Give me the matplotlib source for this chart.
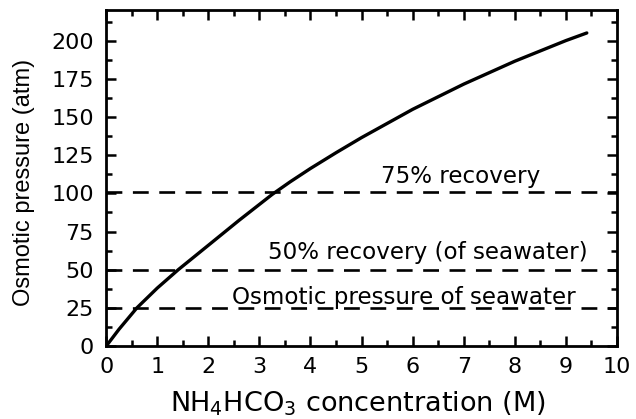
import matplotlib
matplotlib.use("Agg")
import matplotlib.pyplot as plt
from matplotlib.ticker import MultipleLocator

plt.rcParams['font.family'] = ['DejaVu Sans']
plt.rcParams['mathtext.fontset'] = 'dejavusans'

conc = [0, 0.25, 0.6, 1.0, 1.41, 2.0, 2.6, 3.25, 3.6, 4.0, 4.5, 5.0, 6.0, 7.0, 8.0, 9.0, 9.41]
pressure = [0, 11, 25, 38, 50, 66, 82.3, 99.3, 107.5, 116.3, 126.6, 136.5, 155, 171.5, 186.5, 200, 205]

ref_levels = [25, 50, 101]
ref_labels = ["Osmotic pressure of seawater", "50% recovery (of seawater)", "75% recovery"]
label_x = [5.83, 6.29, 6.93]
label_y = [32, 61.5, 111]

fig = plt.figure(figsize=(6.36, 4.19), dpi=100)
ax = fig.add_axes([0.167, 0.174, 0.803, 0.802])

ax.plot(conc, pressure, color='black', lw=2.4, solid_capstyle='round', solid_joinstyle='round')
for lev in ref_levels:
    ax.plot([0, 10], [lev, lev], color='black', lw=1.9, dashes=(6, 4))
for t, x, y in zip(ref_labels, label_x, label_y):
    ax.text(x, y, t, ha='center', va='center', fontsize=16.6)

ax.set_xlim(0, 10)
ax.set_ylim(0, 220)
ax.xaxis.set_major_locator(MultipleLocator(1))
ax.xaxis.set_minor_locator(MultipleLocator(0.5))
ax.yaxis.set_major_locator(MultipleLocator(25))
ax.yaxis.set_minor_locator(MultipleLocator(12.5))
ax.tick_params(which='both', direction='in', top=True, right=True, width=1.8, labelsize=16)
ax.tick_params(which='major', length=7)
ax.tick_params(which='minor', length=4)
ax.tick_params(axis='x', pad=8)
ax.tick_params(axis='y', pad=9)
for s in ax.spines.values():
    s.set_linewidth(2)

ax.set_xlabel(r'NH$_4$HCO$_3$ concentration (M)', fontsize=19.5)
ax.xaxis.set_label_coords(0.492, -0.13)
ax.set_ylabel('Osmotic pressure (atm)', fontsize=17, family='Liberation Sans')
ax.yaxis.set_label_coords(-0.14, 0.488)

fig.savefig('out.png', dpi=100)
